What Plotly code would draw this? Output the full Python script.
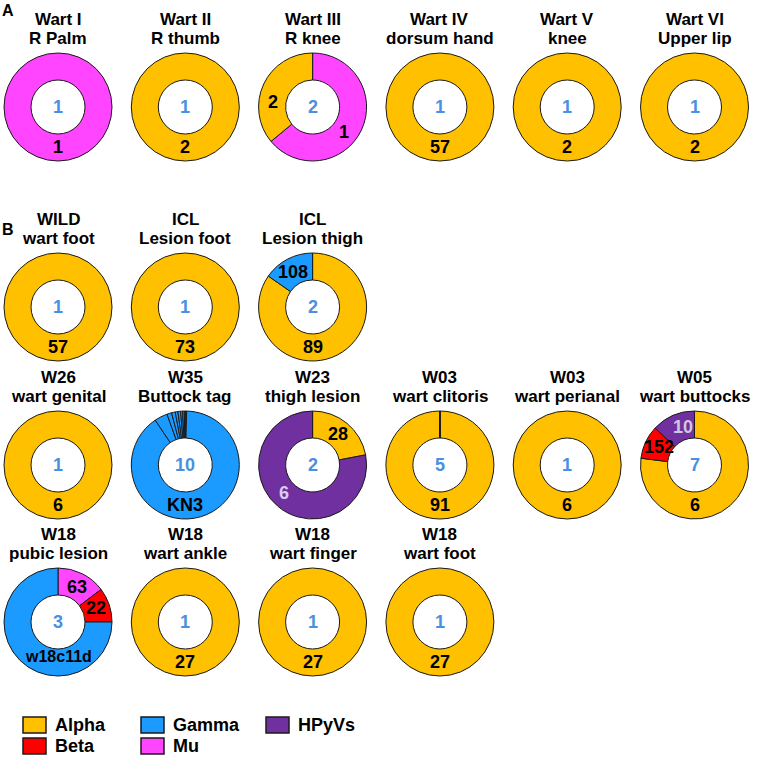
import math
import plotly.graph_objects as go

W, H = 766, 757

GENUS_COLORS = {"Alpha": "#FFC000", "Beta": "#FF0000", "Gamma": "#1B9BFF",
                "Mu": "#FF45FF", "HPyVs": "#7030A0"}

# ---- data ----
title_line1 = ["Wart I", "Wart II", "Wart III", "Wart IV", "Wart V", "Wart VI",
               "WILD", "ICL", "ICL",
               "W26", "W35", "W23", "W03", "W03", "W05",
               "W18", "W18", "W18", "W18"]
title_line2 = ["R Palm", "R thumb", "R knee", "dorsum hand", "knee", "Upper lip",
               "wart foot", "Lesion foot", "Lesion thigh",
               "wart genital", "Buttock tag", "thigh lesion", "wart clitoris", "wart perianal", "wart buttocks",
               "pubic lesion", "wart ankle", "wart finger", "wart foot"]
type_counts = ["1", "1", "2", "1", "1", "1",
               "1", "1", "2",
               "1", "10", "2", "5", "1", "7",
               "3", "1", "1", "1"]

# slice shares (percent), clockwise from 12 o'clock
slice_shares = [
    [100], [100], [64, 36], [100], [100], [100],
    [100], [100], [84.7, 15.3],
    [100], [0.4, 90.2, 3.9, 1.4, 1.1, 0.8, 0.8, 0.6, 0.5, 0.3], [22, 78],
    [99.92, 0.02, 0.02, 0.02, 0.02], [100], [77, 10, 13],
    [14.7, 10.3, 75], [100], [100], [100],
]
slice_genus = [
    ["Mu"], ["Alpha"], ["Mu", "Alpha"], ["Alpha"], ["Alpha"], ["Alpha"],
    ["Alpha"], ["Alpha"], ["Alpha", "Gamma"],
    ["Alpha"], ["Beta"] + ["Gamma"] * 9, ["Alpha", "HPyVs"],
    ["Alpha"] * 5, ["Alpha"], ["Alpha", "Beta", "HPyVs"],
    ["Mu", "Beta", "Gamma"], ["Alpha"], ["Alpha"], ["Alpha"],
]
# ring labels: (text, angle clockwise from top in degrees, text colour)
ring_labels = [
    [("1", 180, "#000")], [("2", 180, "#000")], [("2", 277, "#000"), ("1", 128, "#000")],
    [("57", 180, "#000")], [("2", 180, "#000")], [("2", 180, "#000")],
    [("57", 180, "#000")], [("73", 180, "#000")], [("108", 331, "#000"), ("89", 180, "#000")],
    [("6", 180, "#000")], [("KN3", 180, "#000")], [("28", 40, "#000"), ("6", 225, "#D9CCF0")],
    [("91", 180, "#000")], [("6", 180, "#000")], [("10", 343, "#D0C8DC"), ("152", 296, "#000"), ("6", 180, "#000")],
    [("63", 28, "#000"), ("22", 70, "#000"), ("w18c11d", 180, "#000")],
    [("27", 180, "#000")], [("27", 180, "#000")], [("27", 180, "#000")],
]
legend_names = ["Alpha", "Beta", "Gamma", "Mu", "HPyVs"]

# ---- layout geometry (page pixels) ----
col_x = [58 + 127.3 * i for i in range(6)]
row_y = [107, 307, 465, 622]
panel_cell = ([(0, c) for c in range(6)] + [(1, c) for c in range(3)] +
              [(2, c) for c in range(6)] + [(3, c) for c in range(4)])
R = 54
HOLE = 0.5


def px(x):
    return x / W


def py(y):
    return 1 - y / H


FONT = "Liberation Sans, Arial, sans-serif"
fig = go.Figure()
annotations = []


def add_text(x, y, txt, size, color="#000", xanchor="center"):
    annotations.append(dict(x=px(x), y=py(y), text=f"<b>{txt}</b>", showarrow=False,
                            xanchor=xanchor, yanchor="middle",
                            font=dict(family=FONT, size=size, color=color)))


for i, (r, c) in enumerate(panel_cell):
    cx, cy = col_x[c], row_y[r]
    labels = [f"{g}_{i}_{k}" for k, g in enumerate(slice_genus[i])]
    fig.add_trace(go.Pie(
        values=slice_shares[i], labels=labels, hole=HOLE, sort=False,
        direction="clockwise", rotation=0, textinfo="none", hoverinfo="skip",
        showlegend=False,
        marker=dict(colors=[GENUS_COLORS[g] for g in slice_genus[i]],
                    line=dict(color="#1a1a1a", width=1)),
        domain=dict(x=[px(cx - R), px(cx + R)], y=[py(cy + R), py(cy - R)]),
    ))
    add_text(cx, cy - R - 33.5, title_line1[i], 17)
    add_text(cx, cy - R - 14.5, title_line2[i], 17)
    add_text(cx, cy, type_counts[i], 18, "#4A90E2")
    for txt, ang, col in ring_labels[i]:
        rr = 34 if txt == "w18c11d" else 40
        a = math.radians(ang)
        add_text(cx + rr * math.sin(a), cy - rr * math.cos(a), txt,
                 18 if len(txt) < 4 else 16, col)

# panel letters
add_text(0, 10, "A", 16, xanchor="left")
add_text(0, 229, "B", 16, xanchor="left")

# legend (manual swatches)
leg_pos = {"Alpha": (23, 725), "Beta": (23, 746), "Gamma": (141, 725), "Mu": (141, 746), "HPyVs": (266, 725)}
shapes = []
for name in legend_names:
    lx, ly = leg_pos[name]
    shapes.append(dict(type="rect", xref="paper", yref="paper",
                       x0=px(lx), x1=px(lx + 23), y0=py(ly + 8), y1=py(ly - 8),
                       fillcolor=GENUS_COLORS[name], line=dict(color="#1a1a1a", width=1.5)))
    add_text(lx + 30, ly, name, 18, xanchor="left")

fig.update_layout(width=W, height=H, margin=dict(l=0, r=0, t=0, b=0),
                  paper_bgcolor="white", plot_bgcolor="white",
                  annotations=annotations, shapes=shapes, showlegend=False)

fig.write_html("out.html", config={"displayModeBar": False},
               post_script="document.body.style.margin='0';document.body.style.overflow='hidden';")
